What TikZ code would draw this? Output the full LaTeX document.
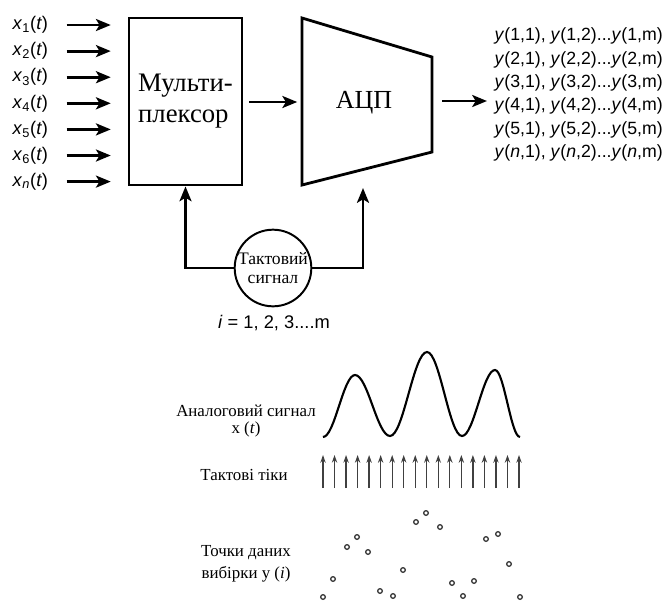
\documentclass[tikz,border=0pt]{standalone}
\usepackage{fontspec}
\setmainfont{Liberation Serif}
\setsansfont{Liberation Sans}
\usetikzlibrary{arrows.meta,positioning,calc}

\begin{document}
\begin{tikzpicture}[x=0.025cm,y=-0.025cm,
    sig/.style={line width=2pt,-{Stealth[length=10.5pt,width=8.5pt,inset=2.5pt]}},
    clkarrow/.style={line width=0.9pt,black!75,-{Stealth[length=5.5pt,width=3.8pt]}},
    lbl/.style={font=\sffamily\fontsize{13}{16.6}\selectfont,inner sep=1pt},
    cyr/.style={font=\fontsize{12}{12.6}\selectfont,align=center}]
  \useasboundingbox (0,0) rectangle (666,601);
  %% Multiplexer and ADC
  \node[draw,line width=2pt,minimum width=2.825cm,minimum height=4.175cm,
        font=\fontsize{19}{22}\selectfont,align=left] (mux) at (185.5,101.5)
       {Мульти-\\плексор};
  \draw[line width=2pt] (302,18) -- (432,57) -- (432,152) -- (302,185) -- cycle;
  \node[font=\fontsize{18.5}{22}\selectfont] (adc) at (364,103) {АЦП};
  \coordinate (adcin) at (302,102);
  \coordinate (adcout) at (432,101);
  \coordinate (adcbot) at (363,188);
  %% Inputs
  \foreach \k [count=\i] in {1,2,3,4,5,6,\textit{n}}{
    \node[lbl,anchor=west] (x\i) at (11,{25+26.1*(\i-1)})
         {\textit{x}\textsubscript{\k}(\textit{t})};
    \draw[sig] ([xshift=0.42cm]x\i.east) -- ([xshift=-0.42cm]x\i.east -| mux.west);
  }
  %% Outputs
  \node[lbl,anchor=west,align=left,font=\sffamily\fontsize{12.6}{16.6}\selectfont]
       (ys) at (493,94.5)
       {\textit{y}(1,1), \textit{y}(1,2)...\textit{y}(1,m)\\
        \textit{y}(2,1), \textit{y}(2,2)...\textit{y}(2,m)\\
        \textit{y}(3,1), \textit{y}(3,2)...\textit{y}(3,m)\\
        \textit{y}(4,1), \textit{y}(4,2)...\textit{y}(4,m)\\
        \textit{y}(5,1), \textit{y}(5,2)...\textit{y}(5,m)\\
        \textit{y}(\textit{n},1), \textit{y}(\textit{n},2)...\textit{y}(\textit{n},m)};
  \draw[sig,shorten <=0.15cm,shorten >=0.12cm] (mux.east |- adcin) -- (adcin);
  \draw[sig,shorten <=0.25cm,shorten >=0.15cm] (adcout) -- (adcout -| ys.west);
  %% Clock
  \node[draw,circle,line width=1.4pt,minimum size=1.85cm,inner sep=0pt,
        align=center,font=\fontsize{12.5}{14}\selectfont] (clk) at (273,268)
       {Тактовий\\сигнал};
  \draw[sig] (clk.west) -| (mux.south);
  \draw[sig] (clk.east) -| (adcbot);
  \node[lbl] (idx) at (274,323) {\textit{i} = 1, 2, 3....m};
  %% Sampling
  \node[cyr] (alab) at (246,421) {Аналоговий сигнал\\x (\textit{t})};
  \draw[line width=1.5pt] (323,437) cos (339,406) sin (355,375) cos (372.5,405.5)
       sin (390,436) cos (408.5,394) sin (427,352) cos (444.5,394) sin (462,436)
       cos (478.5,403) sin (495,370) cos (507.5,403.5) sin (520,437);
  \node[cyr] (tlab) at (244,475) {Тактові тіки};
  \foreach \k in {0,...,17}
    \draw[clkarrow] ({323+11.53*\k},488) -- ({323+11.53*\k},455);
  \node[cyr,font=\fontsize{12}{15.6}\selectfont] (dlab) at (246,564)
       {Точки даних\\вибірки у (\textit{i})};
  \foreach \ax/\ay in {323/597,333/579,347/547,357/537,368/552,380/591,393/596,
                       403/570,416/522,426/513,440/527,452/583,463/596,474/581,
                       486/539,498/534,509/564,520/597}
    \draw[line width=0.9pt,black!80] (\ax,\ay) circle[radius=0.058cm];
\end{tikzpicture}
\end{document}
